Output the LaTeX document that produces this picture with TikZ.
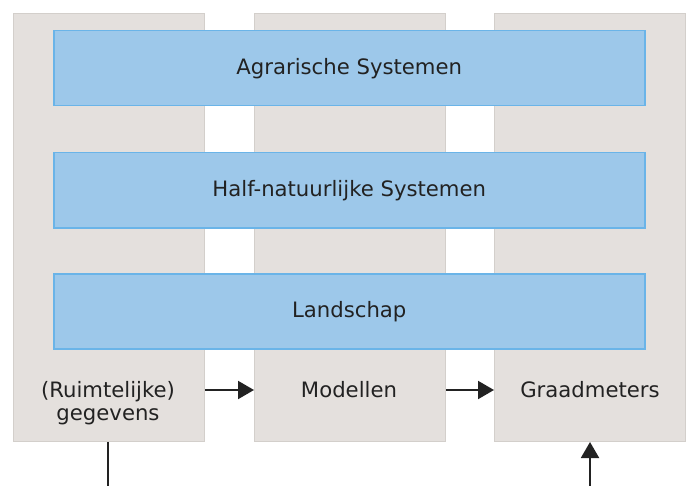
\documentclass[tikz,border=0pt]{standalone}
\usepackage{fontspec}
\setmainfont{DejaVu Sans}
\usetikzlibrary{arrows.meta,positioning}

\definecolor{colgray}{HTML}{E4E0DD}
\definecolor{colline}{HTML}{D3CFCB}
\definecolor{barblue}{HTML}{9DC8EA}
\definecolor{barline}{HTML}{6AB4E8}
\definecolor{inkdark}{HTML}{222222}

\tikzset{
  column/.style={rectangle, draw=colline, fill=colgray, line width=1pt, minimum width=191pt, minimum height=428pt, anchor=north west},
  layerbar/.style={rectangle, draw=barline, fill=barblue, line width=1.5pt, minimum width=591pt, minimum height=75pt, anchor=north west, text=inkdark, font=\fontsize{21.2}{23.5}\selectfont},
  steplabel/.style={text=inkdark, align=center, font=\fontsize{21.2}{23.5}\selectfont},
  flow/.style={draw=inkdark, line width=2pt, -{Triangle[length=16pt,width=18pt]}}
}

\begin{document}
\begin{tikzpicture}[x=1pt, y=1pt]
  \useasboundingbox (0,0) rectangle (692,-486);
  % three columns
  \node[column] (coldata) at (13,-13) {};
  \node[column] (colmodel) at (254,-13) {};
  \node[column] (colgauge) at (494,-13) {};
  % layers across the columns
  \node[layerbar] (agri) at (53,-30) {Agrarische Systemen};
  \node[layerbar] (halfnat) at (53,-152) {Half-natuurlijke Systemen};
  \node[layerbar] (landsch) at (53,-273) {Landschap};
  % labels at the bottom
  \node[steplabel] (lbldata) at (108,-403) {(Ruimtelijke)\\gegevens};
  \node[steplabel] (lblmodel) at (349,-390) {Modellen};
  \node[steplabel] (lblgauge) at (590,-390) {Graadmeters};
  % connectors
  \draw[flow] (coldata.east |- lblmodel) -- (colmodel.west |- lblmodel);
  \draw[flow] (colmodel.east |- lblmodel) -- (colgauge.west |- lblmodel);
  \coordinate (inleft) at (108,-486);
  \coordinate (inright) at (590,-486);
  \draw[draw=inkdark, line width=2pt] (coldata.south -| inleft) -- (inleft);
  \draw[flow] (inright) -- (colgauge.south -| inright);
\end{tikzpicture}
\end{document}
